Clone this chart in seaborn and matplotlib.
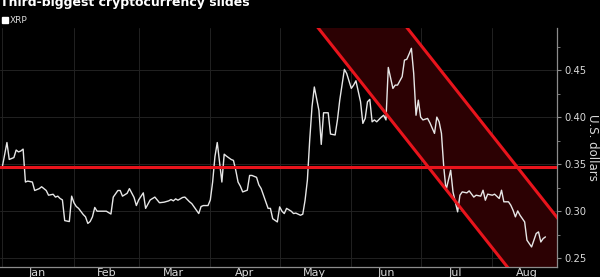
import numpy as np
import pandas as pd
import matplotlib
matplotlib.use("Agg")
import matplotlib.pyplot as plt
from matplotlib.lines import Line2D
import seaborn as sns

# ---------------- data ----------------
title = "Third-biggest cryptocurrency slides"
series_name = "XRP"
y_label = "U.S. dollars"

dates = [
    "2019-01-01", "2019-01-03", "2019-01-04", "2019-01-06", "2019-01-07", "2019-01-08",
    "2019-01-09", "2019-01-10", "2019-01-11", "2019-01-12", "2019-01-14", "2019-01-15",
    "2019-01-17", "2019-01-18", "2019-01-20", "2019-01-21", "2019-01-23", "2019-01-24",
    "2019-01-25", "2019-01-26", "2019-01-27", "2019-01-28", "2019-01-30", "2019-01-31",
    "2019-02-01", "2019-02-02", "2019-02-03", "2019-02-05", "2019-02-06", "2019-02-07",
    "2019-02-08", "2019-02-09", "2019-02-10", "2019-02-11", "2019-02-13", "2019-02-15",
    "2019-02-17", "2019-02-18", "2019-02-20", "2019-02-21", "2019-02-22", "2019-02-24",
    "2019-02-25", "2019-02-27", "2019-02-28", "2019-03-01", "2019-03-03", "2019-03-04",
    "2019-03-06", "2019-03-08", "2019-03-09", "2019-03-10", "2019-03-12", "2019-03-14",
    "2019-03-15", "2019-03-16", "2019-03-17", "2019-03-18", "2019-03-19", "2019-03-20",
    "2019-03-21", "2019-03-23", "2019-03-24", "2019-03-26", "2019-03-27", "2019-03-28",
    "2019-03-29", "2019-03-31", "2019-04-01", "2019-04-02", "2019-04-03", "2019-04-04",
    "2019-04-06", "2019-04-07", "2019-04-08", "2019-04-10", "2019-04-11", "2019-04-12",
    "2019-04-13", "2019-04-14", "2019-04-15", "2019-04-17", "2019-04-18", "2019-04-19",
    "2019-04-21", "2019-04-22", "2019-04-23", "2019-04-25", "2019-04-26", "2019-04-27",
    "2019-04-28", "2019-04-30", "2019-05-01", "2019-05-02", "2019-05-03", "2019-05-04",
    "2019-05-06", "2019-05-07", "2019-05-08", "2019-05-10", "2019-05-11", "2019-05-12",
    "2019-05-13", "2019-05-14", "2019-05-15", "2019-05-16", "2019-05-18", "2019-05-19",
    "2019-05-20", "2019-05-22", "2019-05-23", "2019-05-25", "2019-05-26", "2019-05-27",
    "2019-05-29", "2019-05-30", "2019-06-01", "2019-06-02", "2019-06-03", "2019-06-05",
    "2019-06-06", "2019-06-07", "2019-06-08", "2019-06-09", "2019-06-10", "2019-06-11",
    "2019-06-12", "2019-06-14", "2019-06-15", "2019-06-16", "2019-06-17", "2019-06-19",
    "2019-06-20", "2019-06-21", "2019-06-23", "2019-06-24", "2019-06-25", "2019-06-26",
    "2019-06-27", "2019-06-28", "2019-06-29", "2019-06-30", "2019-07-01", "2019-07-02",
    "2019-07-04", "2019-07-05", "2019-07-07", "2019-07-08", "2019-07-09", "2019-07-10",
    "2019-07-11", "2019-07-12", "2019-07-14", "2019-07-15", "2019-07-17", "2019-07-18",
    "2019-07-19", "2019-07-21", "2019-07-22", "2019-07-24", "2019-07-25", "2019-07-27",
    "2019-07-28", "2019-07-29", "2019-07-30", "2019-08-01", "2019-08-02", "2019-08-04",
    "2019-08-05", "2019-08-06", "2019-08-08", "2019-08-09", "2019-08-10", "2019-08-11",
    "2019-08-12", "2019-08-13", "2019-08-15", "2019-08-16", "2019-08-17", "2019-08-18",
    "2019-08-20", "2019-08-21", "2019-08-22", "2019-08-23", "2019-08-24",
]
xrp = [
    0.347, 0.373, 0.355, 0.357, 0.365, 0.363,
    0.364, 0.366, 0.331, 0.332, 0.331, 0.322,
    0.324, 0.326, 0.322, 0.317, 0.318, 0.315,
    0.316, 0.3135, 0.312, 0.290, 0.289, 0.316,
    0.309, 0.305, 0.303, 0.2965, 0.294, 0.287,
    0.289, 0.294, 0.304, 0.300, 0.300, 0.300,
    0.297, 0.315, 0.322, 0.322, 0.316, 0.319,
    0.324, 0.3146, 0.306, 0.312, 0.3195, 0.303,
    0.312, 0.315, 0.312, 0.309, 0.3096, 0.311,
    0.3124, 0.311, 0.3131, 0.3117, 0.3131, 0.3146,
    0.315, 0.310, 0.308, 0.301, 0.2975, 0.305,
    0.306, 0.306, 0.312, 0.331, 0.358, 0.373,
    0.331, 0.3606, 0.3585, 0.355, 0.354, 0.3436,
    0.331, 0.3266, 0.3205, 0.3223, 0.338, 0.338,
    0.336, 0.328, 0.324, 0.310, 0.303, 0.303,
    0.292, 0.2886, 0.3046, 0.300, 0.2975, 0.303,
    0.300, 0.2975, 0.298, 0.2957, 0.2968, 0.3117,
    0.333, 0.3755, 0.411, 0.432, 0.407, 0.371,
    0.4046, 0.4046, 0.382, 0.381, 0.397, 0.418,
    0.4507, 0.4464, 0.4305, 0.434, 0.4386, 0.4163,
    0.3933, 0.3986, 0.4163, 0.4188, 0.395, 0.397,
    0.395, 0.400, 0.402, 0.397, 0.4528, 0.4305,
    0.434, 0.434, 0.443, 0.4606, 0.4614, 0.467,
    0.4731, 0.4464, 0.402, 0.418, 0.400, 0.397,
    0.3986, 0.394, 0.3827, 0.400, 0.395, 0.3827,
    0.347, 0.3223, 0.3436, 0.3205, 0.2993, 0.317,
    0.3205, 0.3195, 0.3216, 0.315, 0.317, 0.316,
    0.3223, 0.3117, 0.3181, 0.317, 0.3181, 0.3135,
    0.3223, 0.310, 0.310, 0.3064, 0.301, 0.294,
    0.3003, 0.2957, 0.2886, 0.2692, 0.2656, 0.262,
    0.2763, 0.278, 0.2673, 0.2709, 0.2727,
]

# horizontal support level
support_level = 0.347
# descending channel (two parallel trend lines), endpoints
channel_dates = ["2019-05-06", "2019-09-08"]
channel_lower = [0.531, 0.143]
channel_upper = [0.6506, 0.2624]

y_ticks = [0.25, 0.30, 0.35, 0.40, 0.45]
y_minor = [0.275, 0.325, 0.375, 0.425, 0.475]
month_starts = ["2019-01-01", "2019-02-01", "2019-03-01", "2019-04-01",
                "2019-05-01", "2019-06-01", "2019-07-01", "2019-08-01"]
month_mids = ["2019-01-16", "2019-02-15", "2019-03-16", "2019-04-16",
              "2019-05-16", "2019-06-16", "2019-07-16", "2019-08-16"]
month_labels = ["Jan", "Feb", "Mar", "Apr", "May", "Jun", "Jul", "Aug"]

# ---------------- styling ----------------
BG = "#000000"
FG = "#d9d9d9"
GRID = "#222222"
SPINE = "#8c8c8c"
RED = "#e8141c"
FILL = "#2c0103"

sns.set_theme(style="dark", rc={
    "figure.facecolor": BG, "axes.facecolor": BG, "savefig.facecolor": BG,
    "text.color": FG, "axes.labelcolor": FG,
    "xtick.color": FG, "ytick.color": FG,
})
plt.rcParams["font.family"] = ["DejaVu Sans"]

df = pd.DataFrame({"date": pd.to_datetime(dates), "value": xrp})
cd = pd.to_datetime(channel_dates)

fig = plt.figure(figsize=(6.0, 2.77), dpi=100)
ax = fig.add_axes([0.0, 1 - 267 / 277, 557 / 600, (267 - 28) / 277])
ax.set_facecolor(BG)

ax.set_xlim(pd.Timestamp("2018-12-31"), pd.Timestamp("2019-08-29"))
ax.set_ylim(0.2407, 0.4947)

# grid
for d in pd.to_datetime(month_starts):
    ax.axvline(d, color=GRID, lw=0.7, zorder=0)
for v in y_ticks:
    ax.axhline(v, color=GRID, lw=0.7, zorder=0)

# channel fill + lines
ax.fill_between(cd, channel_lower, channel_upper, color=FILL, lw=0, zorder=1)
ax.plot(cd, channel_lower, color=RED, lw=2.2, zorder=3, solid_capstyle="butt")
ax.plot(cd, channel_upper, color=RED, lw=2.2, zorder=3, solid_capstyle="butt")
ax.axhline(support_level, color=RED, lw=2.2, zorder=3)

# price line
sns.lineplot(data=df, x="date", y="value", ax=ax, color="#e6e6e6", lw=1.0,
             zorder=2, legend=False)

# axes formatting
ax.yaxis.tick_right()
ax.set_yticks(y_ticks)
ax.set_yticklabels([f"{v:.2f}" for v in y_ticks])
ax.set_yticks(y_minor, minor=True)
ax.set_ylabel("")
ax.set_xlabel("")
ax.text(1.0 + 36 / 557, 0.5, y_label, transform=ax.transAxes, rotation=270,
        ha="center", va="center", fontsize=8.5, color=FG)

ax.set_xticks(pd.to_datetime(month_starts))
ax.set_xticklabels([])
ax.set_xticks(pd.to_datetime(month_mids), minor=True)
ax.set_xticklabels(month_labels, minor=True)

ax.tick_params(axis="x", which="major", length=3, width=0.8, color=SPINE, direction="inout")
ax.tick_params(axis="x", which="minor", length=0, labelsize=8, pad=1, labelcolor=FG)
ax.tick_params(axis="y", which="major", length=3, width=0.8, color=SPINE,
               labelsize=7.2, pad=2, labelcolor=FG, left=False, right=True)
ax.tick_params(axis="y", which="minor", length=2, width=0.6, color=SPINE,
               left=False, right=True)

for s in ["top", "left"]:
    ax.spines[s].set_visible(False)
for s in ["bottom", "right"]:
    ax.spines[s].set_visible(True)
    ax.spines[s].set_color(SPINE)
    ax.spines[s].set_linewidth(0.9)

# legend
handle = Line2D([], [], linestyle="none", marker="s", markersize=4,
                markerfacecolor="white", markeredgecolor="white")
leg = fig.legend([handle], [series_name], loc="upper left",
                 bbox_to_anchor=(0.0, 1 - 14 / 277), frameon=False,
                 fontsize=6.5, handlelength=0.6, handletextpad=0.3,
                 borderpad=0.2, borderaxespad=0.0, labelcolor=FG)

# title (partly cut off at top edge)
fig.text(0.0, 1 - 6 / 277, title, ha="left", va="baseline", fontsize=9,
         fontweight="bold", color="white")

fig.savefig("out.png", dpi=100, facecolor=BG)
